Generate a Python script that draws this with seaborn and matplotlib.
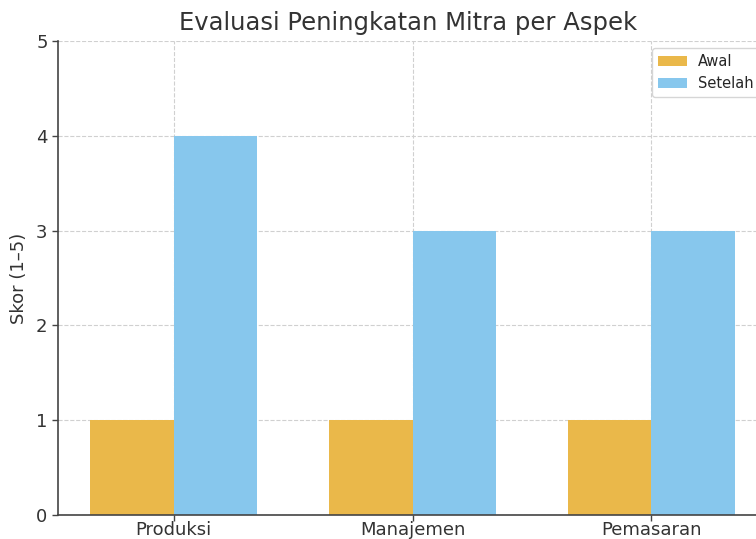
import pandas as pd
import matplotlib.pyplot as plt
import seaborn as sns

# Data
aspek = ['Produksi', 'Manajemen', 'Pemasaran']
skor_awal = [1, 1, 1]
skor_setelah = [4, 3, 3]
warna = ['#EAB84A', '#87C7ED']

df = pd.DataFrame({
    'Aspek': aspek * 2,
    'Skor': skor_awal + skor_setelah,
    'Tahap': ['Awal'] * len(aspek) + ['Setelah'] * len(aspek),
})

sns.set_theme(style="whitegrid")
plt.rcParams['font.family'] = ['DejaVu Sans']

fig = plt.figure(figsize=(7.56, 5.39), dpi=100)
# axes runs a little past the right edge, like the cropped reference
ax = fig.add_axes([0.0767, 0.0445, 0.938, 0.8795])

sns.barplot(data=df, x='Aspek', y='Skor', hue='Tahap', palette=warna,
            width=0.7, saturation=1, ax=ax, edgecolor='none')

ax.set_xlim(-0.485, 2.485)
ax.set_ylim(0, 5)
ax.set_yticks([0, 1, 2, 3, 4, 5])
ax.grid(True, linestyle='--', color='#d0d0d0', linewidth=0.8)
ax.set_axisbelow(True)

for side in ['top', 'right']:
    ax.spines[side].set_visible(False)
for side in ['left', 'bottom']:
    ax.spines[side].set_color('#444444')
    ax.spines[side].set_linewidth(1.2)
ax.tick_params(axis='both', length=4, width=1, color='#444444', labelsize=13,
               labelcolor='#333333', bottom=True, left=True)
ax.tick_params(axis='x', pad=0)

ax.set_title('Evaluasi Peningkatan Mitra per Aspek', fontsize=17.5, color='#333333',
             pad=8, x=0.493)
ax.set_xlabel('')
ax.set_ylabel('Skor (1–5)', fontsize=13, color='#333333', labelpad=6)
ax.legend(loc='upper right', fontsize=10.5, frameon=True, title=None)

fig.savefig('out.png', dpi=100)
